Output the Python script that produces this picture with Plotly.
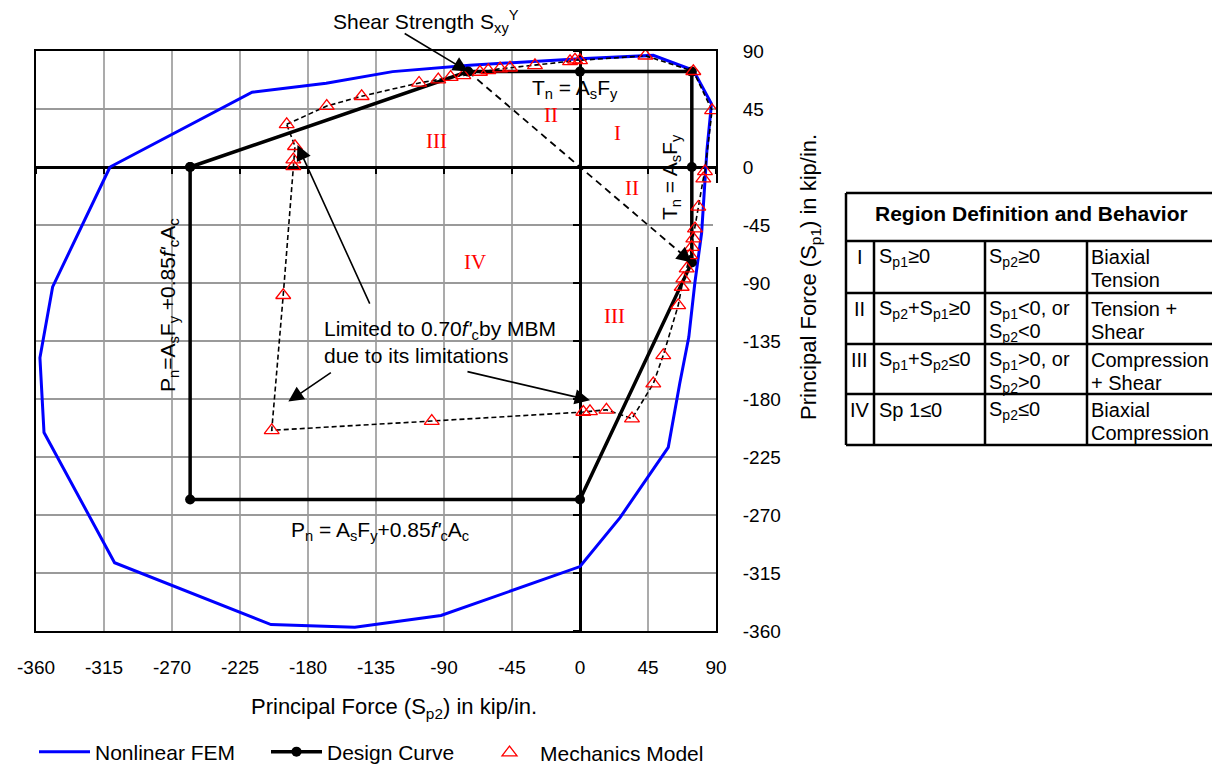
import plotly.graph_objects as go

# ---------------- data (kip/in.) ----------------
X_TICKS = [-360, -315, -270, -225, -180, -135, -90, -45, 0, 45, 90]
Y_TICKS = [-360, -315, -270, -225, -180, -135, -90, -45, 0, 45, 90]

# Nonlinear FEM envelope
FEM_SP2 = [-311, -217, -168, -124, -73, 0, 48.5, 75, 87, 84, 80.5, 76, 72, 66, 58.4,
           26.5, 0, -92, -149, -204.5, -308, -354.7, -357.4, -349, -311]
FEM_SP1 = [0, 58, 65, 74, 79, 84, 86.6, 75, 49, 13, -51, -90, -132, -168, -217.5,
           -272, -310, -348, -357, -355, -307, -206, -148, -93, 0]

# Design curve
DES_SP2 = [-258, -74, 0, 74, 74, 74, 0, -258, -258]
DES_SP1 = [0, 74, 74, 74, 0, -74, -258, -258, 0]

# Shear strength points (arrow start/end)
SHEAR_A = (-74, 74)
SHEAR_B = (74, -74)

# Mechanics model
MM_SP2 = [-194.1, -167.6, -144.5, -106.5, -93.8, -85.6, -77.2, -66.2, -60.7, -52.9, -46.3,
          -29.8, -6.6, -3.3, 0.0, 43.3, 75.0, 87.4, 82.7, 81.6, 78.3, 76.1, 75.0, 73.9,
          72.8, 70.6, 68.4, 67.3, 65.0, 55.1, 48.5, 34.4, 17.5, 6.6, 2.2, -98.1, -204.0,
          -196.4, -189.7, -189.7, -188.6]
MM_SP1 = [33.1, 47.3, 54.9, 65.2, 67.8, 69.8, 71.1, 73.7, 75.0, 76.3, 77.0,
          78.9, 82.0, 83.2, 82.8, 86.3, 74.3, 44.0, -3.4, -9.0, -31.0, -47.8, -55.6, -62.1,
          -68.5, -78.8, -86.6, -93.1, -107.3, -146.1, -168.1, -195.2, -188.4, -189.6, -190.1,
          -197.1, -204.3, -99.5, 0.5, 5.7, 16.1]

TABLE_HEADER = "Region Definition and Behavior"
TABLE_ROWS = [
    ["I", "S<sub>p1</sub>≥0", "S<sub>p2</sub>≥0", "Biaxial<br>Tension"],
    ["II", "S<sub>p2</sub>+S<sub>p1</sub>≥0", "S<sub>p1</sub><0, or<br>S<sub>p2</sub><0", "Tension +<br>Shear"],
    ["III", "S<sub>p1</sub>+S<sub>p2</sub>≤0", "S<sub>p1</sub>>0, or<br>S<sub>p2</sub>>0", "Compression<br>+ Shear"],
    ["IV", "Sp 1≤0", "S<sub>p2</sub>≤0", "Biaxial<br>Compression"],
]

# ---------------- layout helpers (page pixel -> paper) ----------------
W, H = 1220, 767
OFF = 8                      # page body margin of the html
L, R, T, B = 36, 716, 51, 631  # plot area in page pixels


def px(x):
    return (x - L) / (R - L)


def py(y):
    return (B - y) / (B - T)


FONT = "Liberation Sans, Arial, sans-serif"
SERIF = "Liberation Serif, Times New Roman, serif"

fig = go.Figure()

fig.add_trace(go.Scatter(x=FEM_SP2, y=FEM_SP1, mode="lines", name="Nonlinear FEM",
                         line=dict(color="#0000FF", width=3), legend="legend"))
fig.add_trace(go.Scatter(x=DES_SP2, y=DES_SP1, mode="lines+markers", name="Design Curve",
                         line=dict(color="black", width=3.5),
                         marker=dict(size=10, color="black"), legend="legend2"))
fig.add_trace(go.Scatter(x=[SHEAR_A[0], SHEAR_B[0]], y=[SHEAR_A[1], SHEAR_B[1]], mode="lines",
                         line=dict(color="black", width=1.8, dash="7px,5px"), showlegend=False,
                         hoverinfo="skip"))
fig.add_trace(go.Scatter(x=MM_SP2 + [MM_SP2[0]], y=MM_SP1 + [MM_SP1[0]], mode="lines",
                         line=dict(color="black", width=1.6, dash="5px,3px"), showlegend=False,
                         hoverinfo="skip"))
fig.add_trace(go.Scatter(x=MM_SP2, y=MM_SP1, mode="markers", name="Mechanics Model",
                         marker=dict(symbol="triangle-up-open", size=13, color="red",
                                     line=dict(width=1.3, color="red")), legend="legend3"))

axis_common = dict(range=[-360, 90], showgrid=True, zeroline=True, zerolinecolor="black",
                   zerolinewidth=2.5, showline=True, linecolor="black", linewidth=2,
                   mirror=True, ticks="", tickfont=dict(size=19, color="black", family=FONT))
fig.update_xaxes(**axis_common, tickvals=X_TICKS, ticktext=[str(v) for v in X_TICKS],
                 gridcolor="#ababab", gridwidth=2, ticklabelstandoff=18)
fig.update_yaxes(**axis_common, tickvals=Y_TICKS, ticktext=[str(v) for v in Y_TICKS],
                 gridcolor="#9a9a9a", gridwidth=1.6, side="right", ticklabelstandoff=21)

shapes = []
# tick marks on the axes crossing at zero
for xv in X_TICKS:
    shapes.append(dict(type="line", xref="x", yref="y", x0=xv, x1=xv, ysizemode="pixel",
                       yanchor=0, y0=0, y1=-7, line=dict(color="black", width=2)))
for yv in Y_TICKS:
    shapes.append(dict(type="line", xref="x", yref="y", y0=yv, y1=yv, xsizemode="pixel",
                       xanchor=0, x0=-7, x1=0, line=dict(color="black", width=2)))
# white gap on right border
shapes.append(dict(type="rect", xref="paper", yref="paper", x0=px(713), x1=px(732),
                   y0=py(247), y1=py(183), fillcolor="white", line=dict(width=0), layer="above"))

# table
tl, tr, tt, tb = 846, 1226, 193, 445
row_lines = [241, 293, 344, 394]
col_lines = [874, 985, 1087]
lw = dict(color="black", width=2.5)


def hline(y, x0, x1):
    shapes.append(dict(type="line", xref="paper", yref="paper", x0=px(x0), x1=px(x1),
                       y0=py(y), y1=py(y), line=lw))


def vline(x, y0, y1):
    shapes.append(dict(type="line", xref="paper", yref="paper", x0=px(x), x1=px(x),
                       y0=py(y0), y1=py(y1), line=lw))


hline(tt, tl, tr)
hline(tb, tl, tr)
vline(tl, tt, tb)
for rl in row_lines:
    hline(rl, tl, tr)
for cl in col_lines:
    vline(cl, row_lines[0], tb)

ann = []


def txt(x, y, s, size=21, color="black", family=FONT, angle=0, xanchor="center",
        yanchor="middle", align="center"):
    ann.append(dict(x=px(x), y=py(y), xref="paper", yref="paper", text=s, showarrow=False,
                    font=dict(size=size, color=color, family=family), textangle=angle,
                    xanchor=xanchor, yanchor=yanchor, align=align))


def arrow(tip, ax, ay, width=1.6, size=1.9):
    ann.append(dict(x=tip[0], y=tip[1], xref="x", yref="y", ax=ax, ay=ay, text="",
                    showarrow=True, arrowhead=2, arrowsize=size, arrowwidth=width,
                    arrowcolor="black", standoff=0))


txt(426, 22, "Shear Strength S<sub>xy</sub><sup>Y</sup>")
arrow(SHEAR_A, -65, -39)
arrow(SHEAR_B, -11, -9)
txt(575, 89, "T<sub>n</sub> = A<sub>s</sub>F<sub>y</sub>")
txt(671, 177, "T<sub>n</sub> = A<sub>s</sub>F<sub>y</sub>", angle=-90)
txt(169, 305, "P<sub>n</sub>=A<sub>s</sub>F<sub>y</sub> +0.85<i>f'</i><sub>c</sub>A<sub>c</sub>", angle=-90)
txt(380, 531, "P<sub>n</sub> = A<sub>s</sub>F<sub>y</sub>+0.85<i>f'</i><sub>c</sub>A<sub>c</sub>")
txt(322, 342, "Limited to 0.70<i>f'</i><sub>c</sub>by MBM<br>due to its limitations",
    xanchor="left", align="left")
arrow((-187, 17), 73, 160)
arrow((-193, -182), 44, -30)
arrow((6.6, -181), -124, -29)

for (x, y, s) in [(436, 141, "III"), (551, 115, "II"), (617, 133, "I"), (632, 188, "II"),
                  (475, 262, "IV"), (614, 316, "III")]:
    txt(x, y, s, size=21, color="red", family=SERIF)

txt(394, 708, "Principal Force (S<sub>p2</sub>) in kip/in.", size=22)
txt(810, 277, "Principal Force (S<sub>p1</sub>) in kip/in.", size=22, angle=-90)

# table text
txt(1032, 213, "<b>" + TABLE_HEADER + "</b>", size=21)
col_x = [860, 877, 987, 1089]
for r, row in enumerate(TABLE_ROWS):
    top = ([tt] + row_lines)[r + 1]
    for c, cell in enumerate(row):
        for i, line in enumerate(cell.split("<br>")):
            txt(col_x[c], top + 16 + 23 * i, line, size=20,
                xanchor="center" if c == 0 else "left", align="left")

leg = dict(yanchor="middle", xanchor="left", orientation="h", font=dict(size=21, family=FONT),
           itemwidth=51, bgcolor="rgba(0,0,0,0)")
fig.update_layout(
    width=W, height=H,
    margin=dict(l=L - OFF, r=W - (R - OFF), t=T - OFF, b=H - (B - OFF), pad=0, autoexpand=False),
    paper_bgcolor="white", plot_bgcolor="white",
    font=dict(family=FONT, size=19, color="black"),
    shapes=shapes, annotations=ann,
    showlegend=True,
    legend=dict(x=px(34), y=py(752), **leg),
    legend2=dict(x=px(266), y=py(752), **leg),
    legend3=dict(x=px(479), y=py(753), **leg),
)

fig.write_html("out.html")
